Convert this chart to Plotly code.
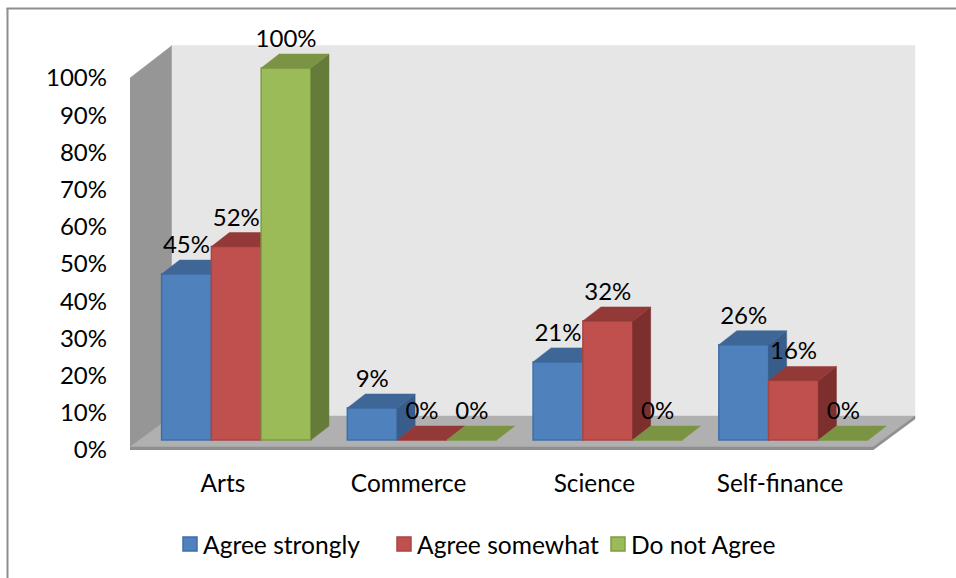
import plotly.graph_objects as go

categories = ["Arts", "Commerce", "Science", "Self-finance"]
agree_strongly = [44.6, 8.6, 21, 25.6]
agree_somewhat = [52, 0, 32, 16]
do_not_agree = [100, 0, 0, 0]
y_ticks = list(range(0, 101, 10))
y_tick_labels = [f"{v}%" for v in y_ticks]

W, H = 956, 578
PL, PR, PT, PB = 130, 930, 20, 450
PX_X = 743 / 4      # pixels per category
PX_Y = 3.72         # pixels per percent
X_RANGE = [-0.5, -0.5 + (PR - PL) / PX_X]
Y_RANGE = [0, (PB - PT) / PX_Y]

FONT = "Lato"
FS = 24
LIFT = 10 / PX_Y        # bars stand slightly behind the front edge of the floor
BAR_W = 49.8 / PX_X
START = -61.3 / PX_X
DX, DY = 18 / PX_X, 14 / PX_Y
WDX, WDY = 42 / PX_X, 32.5 / PX_Y

series = [
    ("Agree strongly", agree_strongly, "#4F81BD", "#3F6FA8", "#385D8A", "#3E6797"),
    ("Agree somewhat", agree_somewhat, "#C0504D", "#A84643", "#7D2F2D", "#933A38"),
    ("Do not Agree", do_not_agree, "#9BBB59", "#7F9C45", "#657B3A", "#7A9444"),
]

fig = go.Figure()


def poly(xs, ys, color, xa="x", ya="y"):
    fig.add_trace(go.Scatter(
        x=xs + [xs[0]], y=ys + [ys[0]], xaxis=xa, yaxis=ya, mode="lines",
        fill="toself", fillcolor=color, line=dict(color=color, width=0.5),
        hoverinfo="skip", showlegend=False))


L, R = -0.5, 3.5
TOP = 100
FE = 3 / PX_Y  # floor slab thickness
poly([L, L, L + WDX, L + WDX], [0, TOP, TOP + WDY, WDY], "#969696")
poly([L + WDX, L + WDX, R + WDX, R + WDX], [WDY, TOP + WDY, TOP + WDY, WDY], "#E6E6E6")
poly([L, L + WDX, R + WDX, R], [FE, WDY + FE / 2, WDY + FE / 2, FE], "#B0B0B0")
poly([L, R, R + WDX, R + WDX, R, L], [FE, FE, WDY + FE / 2, WDY - FE / 2, 0, 0], "#8F8F8F")

for s, (name, vals, front, edge, side, top) in enumerate(series):
    n = s + 2
    xa, ya = f"x{n}", f"y{n}"
    lefts = [i + START + s * BAR_W for i in range(len(vals))]
    for x0, v in zip(lefts, vals):
        x1 = x0 + BAR_W
        t = LIFT + v
        if v > 0:
            poly([x1, x1 + DX, x1 + DX, x1], [LIFT, LIFT + DY, t + DY, t], side, xa, ya)
        poly([x0, x0 + DX, x1 + DX, x1], [t, t + DY, t + DY, t], top, xa, ya)
    fig.add_trace(go.Bar(
        x=lefts, y=vals, base=[LIFT] * len(vals), width=BAR_W, offset=0, xaxis=xa, yaxis=ya,
        name=name, marker=dict(color=front, line=dict(color=edge, width=1.5)),
        hovertemplate="%{y}%<extra>" + name + "</extra>", showlegend=False))
    # legend key
    fig.add_trace(go.Scatter(
        x=[None], y=[None], xaxis=xa, yaxis=ya, mode="markers", name=name,
        marker=dict(symbol="square", size=14, color=front, line=dict(color=edge, width=1.5))))

# data labels sit on the top overlay
for s, (name, vals, *_rest) in enumerate(series):
    fig.add_trace(go.Scatter(
        x=[i + START + (s + 0.5) * BAR_W for i in range(len(vals))],
        y=[LIFT + v + 27 / PX_Y for v in vals],
        text=[f"{round(v)}%" for v in vals], mode="text", textposition="middle center",
        textfont=dict(family=FONT, size=FS, color="#000000"), cliponaxis=False,
        xaxis="x4", yaxis="y4", hoverinfo="skip", showlegend=False))

px = lambda v: (v - PL) / (PR - PL)
py = lambda v: (PB - v) / (PB - PT)
frame = dict(color="#8E8E8E", width=2)
layout = dict(
    width=W, height=H, margin=dict(l=PL, r=W - PR, t=PT, b=H - PB, autoexpand=False),
    paper_bgcolor="white", plot_bgcolor="rgba(0,0,0,0)", barmode="overlay",
    font=dict(family=FONT, size=FS, color="#000000"),
    xaxis=dict(range=X_RANGE, tickmode="array", tickvals=list(range(len(categories))),
               ticktext=categories, showgrid=False, zeroline=False, showline=False,
               ticks="", ticklabelstandoff=17, tickfont=dict(family=FONT, size=24.4)),
    yaxis=dict(range=Y_RANGE, tickmode="array", tickvals=y_ticks, ticktext=y_tick_labels,
               showgrid=False, zeroline=False, showline=False, ticks="",
               ticklabelstandoff=22, tickfont=dict(family=FONT, size=FS)),
    legend=dict(orientation="h", x=px(163), xanchor="left",
                y=py(544), yanchor="middle", traceorder="normal",
                entrywidth=169, entrywidthmode="pixels", itemsizing="trace",
                font=dict(family=FONT, size=24.6), bgcolor="rgba(0,0,0,0)"),
    shapes=[
        dict(type="line", xref="paper", yref="paper", layer="below",
             x0=px(6.5), x1=px(W), y0=py(8.5), y1=py(8.5), line=frame),
        dict(type="line", xref="paper", yref="paper", layer="below",
             x0=px(7.5), x1=px(7.5), y0=py(8), y1=py(H), line=frame),
    ],
)
for n in (2, 3, 4):
    layout[f"xaxis{n}"] = dict(range=X_RANGE, overlaying="x", visible=False, matches="x")
    layout[f"yaxis{n}"] = dict(range=Y_RANGE, overlaying="y", visible=False, matches="y")
fig.update_layout(**layout)

fig.write_html(
    "out.html",
    config={"displayModeBar": False},
    post_script=(
        "document.body.style.margin='0';"
        "document.documentElement.style.overflow='hidden';"
        "document.querySelectorAll('.legend .legendpoints').forEach(function(e){"
        "e.setAttribute('transform',(e.getAttribute('transform')||'')+' translate(7,0)');});"
    ),
)
